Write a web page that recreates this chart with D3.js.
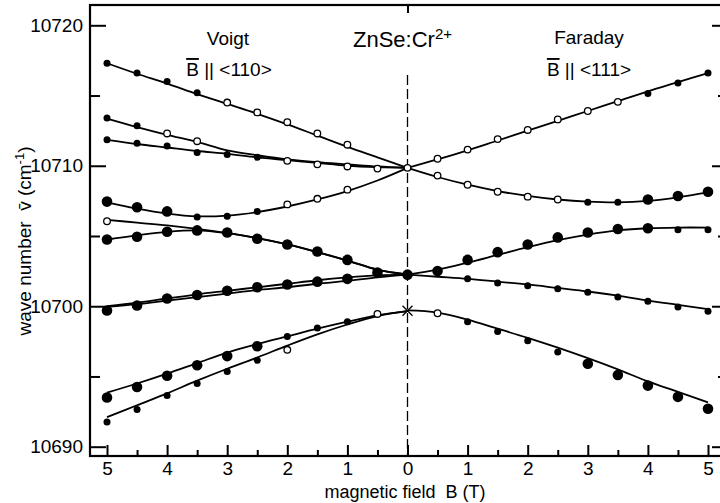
<!DOCTYPE html>
<html>
<head>
<meta charset="utf-8">
<script src="https://cdn.jsdelivr.net/npm/d3@7"></script>
<style>
  body { margin: 0; background: #fff; }
  svg { display: block; font-family: "Liberation Sans", Arial, sans-serif; }
</style>
</head>
<body>
<svg width="720" height="503"></svg>
<script>
// field steps used by the fitted curves (T)
var fieldB = [0, 0.5, 1, 1.5, 2, 2.5, 3, 3.5, 4, 4.5, 5];

// fitted curves, Voigt geometry (B || <110>), value at each fieldB
var voigtFit1 = [10709.85, 10710.6, 10711.35, 10712.15, 10712.95, 10713.7, 10714.4, 10715.1, 10715.85, 10716.55, 10717.3];
var voigtFit2 = [10709.85, 10709.95, 10710.1, 10710.25, 10710.45, 10710.75, 10711.1, 10711.7, 10712.2, 10712.75, 10713.35];
var voigtFit3 = [10709.85, 10709.9, 10710.0, 10710.2, 10710.4, 10710.6, 10710.85, 10711.05, 10711.3, 10711.55, 10711.85];
var voigtFit4 = [10709.85, 10708.95, 10708.2, 10707.6, 10707.1, 10706.7, 10706.45, 10706.4, 10706.6, 10706.95, 10707.4];
var voigtFit5 = [10702.25, 10702.6, 10703.25, 10703.85, 10704.4, 10704.85, 10705.2, 10705.5, 10705.75, 10705.95, 10706.15];
var voigtFit6 = [10702.25, 10702.6, 10703.25, 10703.85, 10704.4, 10704.85, 10705.2, 10705.4, 10705.3, 10705.05, 10704.75];
var voigtFit7 = [10702.25, 10702.2, 10702.05, 10701.85, 10701.6, 10701.35, 10701.1, 10700.85, 10700.55, 10700.25, 10700.0];
var voigtFit8 = [10702.25, 10702.05, 10701.8, 10701.6, 10701.35, 10701.15, 10700.9, 10700.65, 10700.4, 10700.15, 10699.95];
var voigtFit9 = [10699.65, 10699.35, 10698.9, 10698.4, 10697.85, 10697.3, 10696.7, 10695.95, 10695.2, 10694.5, 10693.85];
var voigtFit10 = [10699.65, 10699.3, 10698.7, 10698.0, 10697.2, 10696.35, 10695.55, 10694.7, 10693.8, 10692.95, 10692.1];

// fitted curves, Faraday geometry (B || <111>)
var faradayFit1 = [10709.85, 10710.45, 10711.1, 10711.8, 10712.5, 10713.2, 10713.9, 10714.6, 10715.3, 10715.95, 10716.6];
var faradayFit2 = [10709.85, 10709.2, 10708.65, 10708.2, 10707.85, 10707.6, 10707.45, 10707.4, 10707.5, 10707.75, 10708.1];
var faradayFit3 = [10702.25, 10702.6, 10703.1, 10703.65, 10704.2, 10704.7, 10705.1, 10705.4, 10705.55, 10705.6, 10705.6];
var faradayFit4 = [10702.25, 10702.1, 10701.95, 10701.75, 10701.55, 10701.3, 10701.05, 10700.75, 10700.4, 10700.1, 10699.8];
var faradayFit5 = [10699.7, 10699.55, 10699.05, 10698.4, 10697.75, 10697.05, 10696.3, 10695.5, 10694.65, 10693.9, 10693.15];

// measured points [B, wave number, kind]  s = small dot, b = big dot, o = open, x = cross
var voigtPts1 = [[5, 10717.3, "s"], [4.5, 10716.6, "s"], [4, 10716.0, "s"], [3.5, 10715.2, "s"], [3, 10714.5, "o"], [2.5, 10713.8, "o"], [2, 10713.1, "o"], [1.5, 10712.3, "o"], [1, 10711.5, "o"]];
var voigtPts2 = [[5, 10713.4, "s"], [4.5, 10712.85, "s"], [4, 10712.3, "o"], [3.5, 10711.75, "o"]];
var voigtPts3 = [[5, 10711.85, "s"], [4.5, 10711.6, "s"], [4, 10711.4, "s"], [3.5, 10710.95, "s"], [3, 10710.8, "s"], [2.5, 10710.6, "s"], [2, 10710.35, "o"], [1.5, 10710.1, "o"], [1, 10709.95, "o"], [0.5, 10709.8, "o"]];
var voigtPts4 = [[5, 10707.45, "b"], [4.5, 10707.05, "b"], [4, 10706.75, "b"], [3.5, 10706.35, "s"], [3, 10706.4, "s"], [2.5, 10706.75, "s"], [2, 10707.25, "o"], [1.5, 10707.65, "o"], [1, 10708.3, "o"]];
var voigtPts5 = [[5, 10706.05, "o"], [3, 10705.25, "b"], [2.5, 10704.8, "b"], [2, 10704.4, "b"], [1.5, 10703.9, "b"], [1, 10703.3, "b"], [0.5, 10702.4, "b"]];
var voigtPts6 = [[5, 10704.75, "b"], [4.5, 10704.95, "b"], [4, 10705.3, "b"], [3.5, 10705.4, "b"]];
var voigtPts7 = [[5, 10699.7, "b"], [4.5, 10700.05, "b"], [4, 10700.55, "b"], [3.5, 10700.8, "b"], [3, 10701.1, "b"], [2.5, 10701.35, "b"], [2, 10701.55, "b"], [1.5, 10701.75, "b"], [1, 10701.95, "b"]];
var voigtPts9 = [[5, 10693.5, "b"], [4.5, 10694.25, "b"], [4, 10695.05, "b"], [3.5, 10695.8, "b"], [3, 10696.45, "b"], [2.5, 10697.15, "b"], [2, 10697.85, "s"], [1.5, 10698.45, "s"], [1, 10698.9, "s"], [0.5, 10699.45, "o"]];
var voigtPts10 = [[5, 10691.75, "s"], [4.5, 10692.65, "s"], [4, 10693.65, "s"], [3.5, 10694.5, "s"], [3, 10695.35, "s"], [2.5, 10696.15, "s"], [2, 10696.9, "o"]];

var zeroPts = [[0, 10709.85, "o"], [0, 10702.25, "b"], [0, 10699.68, "x"]];

var faradayPts1 = [[0.5, 10710.5, "o"], [1, 10711.15, "o"], [1.5, 10711.9, "o"], [2, 10712.55, "o"], [2.5, 10713.3, "o"], [3, 10713.9, "o"], [3.5, 10714.55, "o"], [4, 10715.15, "s"], [4.5, 10715.9, "s"], [5, 10716.6, "s"]];
var faradayPts2 = [[0.5, 10709.3, "o"], [1, 10708.65, "o"], [1.5, 10708.15, "o"], [2, 10707.8, "o"], [2.5, 10707.6, "o"], [3, 10707.4, "s"], [3.5, 10707.4, "s"], [4, 10707.6, "b"], [4.5, 10707.85, "b"], [5, 10708.15, "b"]];
var faradayPts3 = [[0.5, 10702.5, "b"], [1, 10703.3, "b"], [1.5, 10703.85, "b"], [2, 10704.4, "b"], [2.5, 10704.9, "b"], [3, 10705.25, "b"], [3.5, 10705.5, "b"], [4, 10705.55, "b"], [4.5, 10705.45, "s"], [5, 10705.45, "s"]];
var faradayPts4 = [[1, 10701.95, "s"], [1.5, 10701.65, "s"], [2, 10701.45, "s"], [2.5, 10701.25, "s"], [3, 10701.0, "s"], [3.5, 10700.65, "s"], [4, 10700.35, "s"], [4.5, 10699.95, "s"], [5, 10699.65, "s"]];
var faradayPts5 = [[0.5, 10699.5, "o"], [1, 10698.9, "s"], [1.5, 10698.2, "s"], [2, 10697.55, "s"], [2.5, 10696.75, "s"], [3, 10695.9, "b"], [3.5, 10695.1, "b"], [4, 10694.35, "b"], [4.5, 10693.55, "b"], [5, 10692.7, "b"]];

// axis ticks
var yMajor = [10690, 10700, 10710, 10720];
var yMinor = [10695, 10705, 10715];
var xMajor = [-5, -4, -3, -2, -1, 0, 1, 2, 3, 4, 5];
var xMinor = [-4.5, -3.5, -2.5, -1.5, -0.5, 0.5, 1.5, 2.5, 3.5, 4.5];

var frame = {left: 90, right: 728, top: 5, bottom: 456};

var svg = d3.select("svg");

// signed field: Voigt to the left (negative), Faraday to the right
var x = d3.scaleLinear().domain([-5, 5]).range([107, 708]);
var y = d3.scaleLinear().domain([10690, 10720]).range([446.7, 25.3]);

// dashed line at zero field
svg.append("line")
    .attr("x1", x(0)).attr("x2", x(0))
    .attr("y1", 75).attr("y2", frame.bottom)
    .attr("stroke", "#000").attr("stroke-width", 1.3)
    .attr("stroke-dasharray", "10,4");

// axes (ticks drawn inward)
function styleAxis(g) {
    g.select(".domain").remove();
    g.selectAll(".tick line").attr("stroke", "#000").attr("stroke-width", 2);
    g.selectAll(".tick text").attr("fill", "#000").style("font-size", "19px");
}

svg.append("g")
    .attr("transform", "translate(" + frame.left + ",0)")
    .call(d3.axisLeft(y).tickValues(yMajor).tickSize(-16).tickPadding(7).tickFormat(d3.format("d")))
    .call(styleAxis);
svg.append("g")
    .attr("transform", "translate(" + frame.left + ",0)")
    .call(d3.axisLeft(y).tickValues(yMinor).tickSize(-10).tickFormat(""))
    .call(styleAxis);
svg.append("g")
    .attr("transform", "translate(" + frame.right + ",0)")
    .call(d3.axisRight(y).tickValues(yMajor).tickSize(-16).tickFormat(""))
    .call(styleAxis);
svg.append("g")
    .attr("transform", "translate(" + frame.right + ",0)")
    .call(d3.axisRight(y).tickValues(yMinor).tickSize(-10).tickFormat(""))
    .call(styleAxis);

svg.append("g")
    .attr("transform", "translate(0," + frame.bottom + ")")
    .call(d3.axisBottom(x).tickValues(xMajor).tickSize(-11).tickPadding(6)
        .tickFormat(function(d) { return Math.abs(d); }))
    .call(styleAxis);
svg.append("g")
    .attr("transform", "translate(0," + frame.bottom + ")")
    .call(d3.axisBottom(x).tickValues(xMinor).tickSize(-6).tickFormat(""))
    .call(styleAxis);
svg.append("g")
    .attr("transform", "translate(0," + frame.top + ")")
    .call(d3.axisTop(x).tickValues([0]).tickSize(-8).tickFormat(""))
    .call(styleAxis);

// frame
svg.append("rect")
    .attr("x", frame.left).attr("y", frame.top)
    .attr("width", frame.right - frame.left).attr("height", frame.bottom - frame.top)
    .attr("fill", "none").attr("stroke", "#000").attr("stroke-width", 2.2);

// fitted curves
var line = d3.line()
    .x(function(d) { return x(d[0]); })
    .y(function(d) { return y(d[1]); })
    .curve(d3.curveCatmullRom);

function fitPoints(values, sign) {
    return fieldB.map(function(b, i) { return [sign * b, values[i]]; });
}

var voigtFits = [voigtFit1, voigtFit2, voigtFit3, voigtFit4, voigtFit5, voigtFit6, voigtFit7, voigtFit8, voigtFit9, voigtFit10];
var faradayFits = [faradayFit1, faradayFit2, faradayFit3, faradayFit4, faradayFit5];

var curves = voigtFits.map(function(v) { return fitPoints(v, -1); })
    .concat(faradayFits.map(function(v) { return fitPoints(v, 1); }));

svg.append("g").selectAll("path")
    .data(curves)
    .enter().append("path")
    .attr("d", line)
    .attr("fill", "none")
    .attr("stroke", "#000")
    .attr("stroke-width", 1.8);

// measured points
function signed(pts, sign) {
    return pts.map(function(p) { return [sign * p[0], p[1], p[2]]; });
}

var allPts = []
    .concat(signed(voigtPts1, -1), signed(voigtPts2, -1), signed(voigtPts3, -1), signed(voigtPts4, -1),
        signed(voigtPts5, -1), signed(voigtPts6, -1), signed(voigtPts7, -1), signed(voigtPts9, -1),
        signed(voigtPts10, -1), zeroPts,
        signed(faradayPts1, 1), signed(faradayPts2, 1), signed(faradayPts3, 1), signed(faradayPts4, 1),
        signed(faradayPts5, 1));

var dots = svg.append("g");

dots.selectAll("circle")
    .data(allPts.filter(function(d) { return d[2] !== "x"; }))
    .enter().append("circle")
    .attr("cx", function(d) { return x(d[0]); })
    .attr("cy", function(d) { return y(d[1]); })
    .attr("r", function(d) { return d[2] === "b" ? 5.3 : d[2] === "s" ? 3.5 : 3.3; })
    .attr("fill", function(d) { return d[2] === "o" ? "#fff" : "#000"; })
    .attr("stroke", "#000")
    .attr("stroke-width", function(d) { return d[2] === "o" ? 1.3 : 0; });

dots.selectAll("path")
    .data(allPts.filter(function(d) { return d[2] === "x"; }))
    .enter().append("path")
    .attr("transform", function(d) { return "translate(" + x(d[0]) + "," + y(d[1]) + ")"; })
    .attr("d", "M-5,-5L5,5M-5,5L5,-5")
    .attr("stroke", "#000")
    .attr("stroke-width", 1.3);

// annotations
var labels = svg.append("g").attr("fill", "#000").style("font-size", "19px");

labels.append("text").attr("x", 228).attr("y", 45).attr("text-anchor", "middle").text("Voigt");
labels.append("text").attr("x", 589).attr("y", 44).attr("text-anchor", "middle").text("Faraday");

// B with a vector bar, then the crystal direction
function fieldLabel(cx, dir) {
    var t = labels.append("text").attr("x", cx).attr("y", 76).attr("text-anchor", "middle");
    t.append("tspan").style("text-decoration", "overline").text("B");
    t.append("tspan").text("\u00a0||\u00a0<" + dir + ">");
}
fieldLabel(229, "110");
fieldLabel(589, "111");

var title = labels.append("text").attr("x", 353).attr("y", 47).style("font-size", "22px");
title.append("tspan").text("ZnSe:Cr");
title.append("tspan").attr("dy", -8).style("font-size", "15px").text("2+");

labels.append("text")
    .attr("x", 405).attr("y", 498)
    .attr("text-anchor", "middle")
    .style("font-size", "18px")
    .text("magnetic field\u00a0\u00a0B (T)");

var ylab = labels.append("text")
    .attr("transform", "translate(31,241) rotate(-90)")
    .attr("text-anchor", "middle");
ylab.append("tspan").text("wave number\u00a0\u00a0v\u0304 (cm");
ylab.append("tspan").attr("dy", -7).style("font-size", "13px").text("-1");
ylab.append("tspan").attr("dy", 7).text(")");
</script>
</body>
</html>
